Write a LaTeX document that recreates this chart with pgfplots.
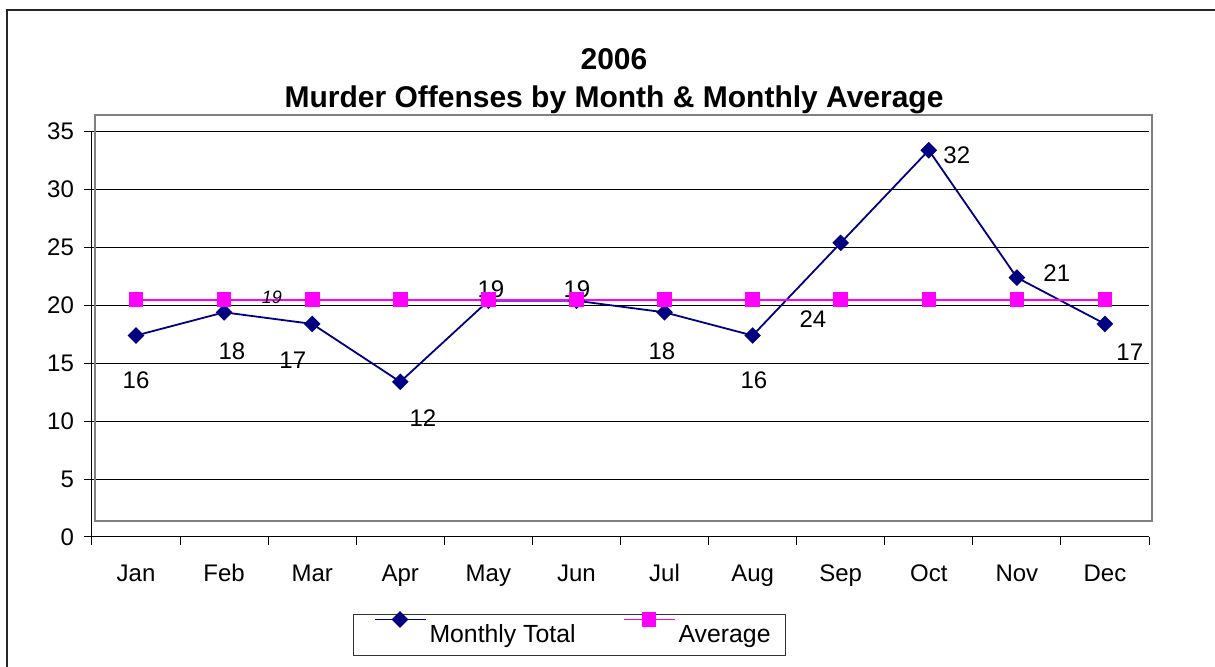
\documentclass[border=0pt]{standalone}
\usepackage{pgfplots}
\pgfplotsset{compat=1.18}
\usepackage{fontspec}
\setmainfont{Liberation Sans}
\definecolor{navyline}{HTML}{000080}
\definecolor{magline}{HTML}{FF00FF}
\newcommand{\lab}{\fontsize{12}{14}\selectfont}

\begin{document}
\begin{tikzpicture}
\useasboundingbox (0,0) rectangle (607.5pt,333.5pt);
% outer chart frame (left and top edges visible)
\draw[line width=1pt,black!85] (3.5pt,-2pt) -- (3.5pt,328.5pt) -- (612pt,328.5pt);
\node[font=\fontsize{15}{18}\selectfont\bfseries,anchor=base] at (307pt,298.6pt) {2006};
\node[font=\fontsize{15}{18}\selectfont\bfseries,anchor=base] at (307pt,279.6pt) {Murder Offenses by Month \& Monthly Average};
\begin{axis}[
    at={(46pt,65pt)}, anchor=south west,
    scale only axis, width=528.5pt, height=202.65pt,
    xmin=0.5, xmax=12.5, ymin=0, ymax=35,
    axis x line=bottom, axis y line=left,
    axis line style={-, line width=0.5pt, black},
    xtick={0.5,1.5,...,12.5},
    xticklabels={Jan,Feb,Mar,Apr,May,Jun,Jul,Aug,Sep,Oct,Nov,Dec,{}},
    xticklabel style={xshift=22.02pt, yshift=-6pt, text height=8.8pt, text depth=2.5pt},
    yticklabel style={xshift=-1.5pt},
    ytick={0,5,...,35},
    tick align=outside,
    major tick length=4pt,
    tick style={black, line width=0.5pt},
    ymajorgrids, grid style={black, line width=0.5pt},
    tick label style={font=\lab},
    /pgf/number format/assume math mode=true,
    clip=false,
    legend columns=2,
    legend style={at={(0.4518,-0.243)}, anchor=center, draw=black!80,
        line width=0.5pt, font=\fontsize{12.4}{14}\selectfont, inner xsep=5.5pt, inner ysep=3pt,
        /tikz/every even column/.append style={column sep=17pt}},
    legend image code/.code={%
        \path[draw=none] (-5pt,0pt) -- (25.5pt,0pt);
        \draw[overlay,#1,mark=none] (0pt,8pt) -- (25.5pt,8pt);
        \draw[overlay,#1,only marks] plot coordinates {(12.75pt,8pt)};},
]
% plot area frame
\draw[gray, line width=1pt] (axis cs:0.534,1.38) rectangle (axis cs:12.539,36.44);

\addplot[color=navyline, line width=0.9pt, mark=square*, mark size=2.5pt,
    mark options={rotate=45}] coordinates {
    (1,17.4) (2,19.4) (3,18.4) (4,13.4) (5,20.4) (6,20.4)
    (7,19.4) (8,17.4) (9,25.4) (10,33.4) (11,22.4) (12,18.4)
};
\addlegendentry{Monthly Total}
\addplot[color=magline, line width=0.9pt, mark=square*, mark size=3.2pt] coordinates {
    (1,20.5) (2,20.5) (3,20.5) (4,20.5) (5,20.5) (6,20.5)
    (7,20.5) (8,20.5) (9,20.5) (10,20.5) (11,20.5) (12,20.5)
};
\addlegendentry{Average}

% data labels
\node[font=\lab, inner sep=0pt] at (axis cs:1,13.54) {16};
\node[font=\lab, inner sep=0pt] at (axis cs:2.089,16.05) {18};
\node[font=\lab, inner sep=0pt] at (axis cs:2.78,15.27) {17};
\node[font=\lab, inner sep=0pt] at (axis cs:4.257,10.26) {12};
\node[font=\lab, inner sep=0pt] at (axis cs:5.029,21.41) {19};
\node[font=\lab, inner sep=0pt] at (axis cs:6.005,21.41) {19};
\node[font=\lab, inner sep=0pt] at (axis cs:6.97,16.05) {18};
\node[font=\lab, inner sep=0pt] at (axis cs:8.014,13.54) {16};
\node[font=\lab, inner sep=0pt] at (axis cs:8.684,18.82) {24};
\node[font=\lab, inner sep=0pt] at (axis cs:10.318,32.99) {32};
\node[font=\lab, inner sep=0pt] at (axis cs:11.453,22.79) {21};
\node[font=\lab, inner sep=0pt] at (axis cs:12.282,15.96) {17};
\node[font=\fontsize{9}{11}\selectfont\itshape, inner sep=0pt] at (axis cs:2.543,20.72) {19};
\end{axis}
\end{tikzpicture}
\end{document}
